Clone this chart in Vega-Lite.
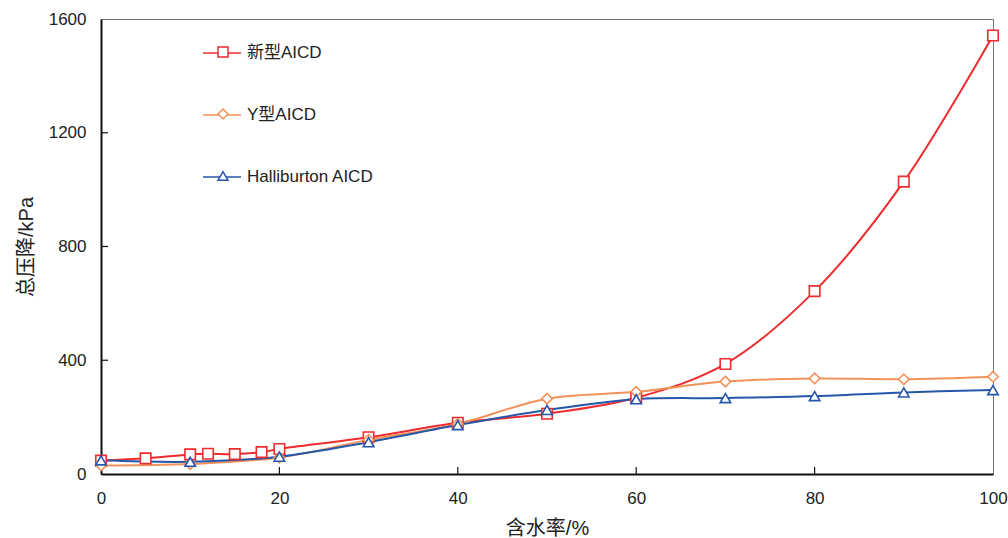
{
  "$schema": "https://vega.github.io/schema/vega-lite/v6.json",
  "width": 892,
  "height": 455,
  "autosize": {"type": "none"},
  "padding": {"left": 101, "top": 19, "right": 15, "bottom": 64},
  "background": "white",
  "config": {
    "view": {"stroke": "#777777", "strokeWidth": 1},
    "font": "Liberation Sans, Noto Sans CJK SC",
    "axis": {
      "domainColor": "#111111",
      "domainWidth": 2,
      "grid": false,
      "ticks": false,
      "tickSize": 0,
      "labelFlush": false,
      "labelFont": "Liberation Sans",
      "labelFontSize": 17,
      "labelColor": "#222222",
      "titleFont": "Liberation Sans, Noto Sans CJK SC",
      "titleFontSize": 20,
      "titleFontWeight": "normal",
      "titleColor": "#222222"
    }
  },
  "datasets": {
    "curves": [
      {"s": "新型AICD", "x": 0, "y": 47},
      {"s": "新型AICD", "x": 5, "y": 55},
      {"s": "新型AICD", "x": 10, "y": 69},
      {"s": "新型AICD", "x": 12, "y": 71},
      {"s": "新型AICD", "x": 15, "y": 70},
      {"s": "新型AICD", "x": 18, "y": 77},
      {"s": "新型AICD", "x": 20, "y": 88},
      {"s": "新型AICD", "x": 30, "y": 129},
      {"s": "新型AICD", "x": 40, "y": 180},
      {"s": "新型AICD", "x": 50, "y": 212},
      {"s": "新型AICD", "x": 60, "y": 268},
      {"s": "新型AICD", "x": 70, "y": 387},
      {"s": "新型AICD", "x": 80, "y": 643},
      {"s": "新型AICD", "x": 90, "y": 1028},
      {"s": "新型AICD", "x": 100, "y": 1542},
      {"s": "Y型AICD", "x": 0, "y": 30},
      {"s": "Y型AICD", "x": 10, "y": 35},
      {"s": "Y型AICD", "x": 20, "y": 58},
      {"s": "Y型AICD", "x": 30, "y": 120},
      {"s": "Y型AICD", "x": 40, "y": 176},
      {"s": "Y型AICD", "x": 50, "y": 265},
      {"s": "Y型AICD", "x": 60, "y": 289},
      {"s": "Y型AICD", "x": 70, "y": 325},
      {"s": "Y型AICD", "x": 80, "y": 336},
      {"s": "Y型AICD", "x": 90, "y": 333},
      {"s": "Y型AICD", "x": 100, "y": 342},
      {"s": "Halliburton AICD", "x": 0, "y": 48},
      {"s": "Halliburton AICD", "x": 10, "y": 43},
      {"s": "Halliburton AICD", "x": 20, "y": 61},
      {"s": "Halliburton AICD", "x": 30, "y": 112},
      {"s": "Halliburton AICD", "x": 40, "y": 172},
      {"s": "Halliburton AICD", "x": 50, "y": 225},
      {"s": "Halliburton AICD", "x": 60, "y": 263},
      {"s": "Halliburton AICD", "x": 70, "y": 267},
      {"s": "Halliburton AICD", "x": 80, "y": 274},
      {"s": "Halliburton AICD", "x": 90, "y": 287},
      {"s": "Halliburton AICD", "x": 100, "y": 295}
    ],
    "xticks": [{"t": 20}, {"t": 40}, {"t": 60}, {"t": 80}],
    "yticks": [{"t": 400}, {"t": 800}, {"t": 1200}]
  },
  "layer": [
    {
      "data": {"name": "curves"},
      "mark": {"type": "line", "interpolate": "catmull-rom", "strokeWidth": 2},
      "encoding": {
        "x": {
          "field": "x",
          "type": "quantitative",
          "scale": {"domain": [0, 100], "nice": false},
          "axis": {
            "values": [0, 20, 40, 60, 80, 100],
            "format": "d",
            "title": "含水率/%",
            "labelPadding": 16,
            "titlePadding": 12
          }
        },
        "y": {
          "field": "y",
          "type": "quantitative",
          "scale": {"domain": [0, 1600], "nice": false},
          "axis": {
            "values": [0, 400, 800, 1200, 1600],
            "format": "d",
            "title": "总压降/kPa",
            "labelPadding": 15,
            "titlePadding": 12
          }
        },
        "stroke": {
          "field": "s",
          "type": "nominal",
          "scale": {
            "domain": ["Halliburton AICD", "新型AICD", "Y型AICD"],
            "range": ["#2656A8", "#EE2B2E", "#F2915A"]
          },
          "legend": {
            "title": null,
            "values": ["新型AICD", "Y型AICD", "Halliburton AICD"],
            "orient": "none",
            "legendX": 101,
            "legendY": 14,
            "padding": 0,
            "symbolType": "stroke",
            "symbolSize": 1444,
            "symbolStrokeWidth": 1.6,
            "rowPadding": 34,
            "labelOffset": 5,
            "labelFont": "Liberation Sans, Noto Sans CJK SC",
            "labelFontSize": 17,
            "labelColor": "#222222"
          }
        }
      }
    },
    {
      "data": {"name": "curves"},
      "mark": {"type": "point", "filled": false, "fill": "white", "fillOpacity": 1, "strokeWidth": 1.6, "opacity": 1},
      "encoding": {
        "x": {"field": "x", "type": "quantitative"},
        "y": {"field": "y", "type": "quantitative"},
        "shape": {
          "field": "s",
          "type": "nominal",
          "scale": {
            "domain": ["新型AICD", "Y型AICD", "Halliburton AICD"],
            "range": ["square", "diamond", "triangle-up"]
          }
        },
        "size": {"value": 110},
        "color": {
          "field": "s",
          "type": "nominal",
          "scale": {
            "domain": ["新型AICD", "Y型AICD", "Halliburton AICD"],
            "range": ["#EE2B2E", "#F2915A", "#2656A8"]
          },
          "legend": {
            "title": null,
            "orient": "none",
            "legendX": 103,
            "legendY": 14,
            "padding": 0,
            "symbolSize": 100,
            "symbolStrokeWidth": 1.5,
            "symbolFillColor": "white",
            "rowPadding": 24,
            "labelFontSize": 38,
            "labelColor": "transparent",
            "labelOpacity": 0
          }
        }
      }
    },
    {
      "data": {"name": "xticks"},
      "mark": {"type": "tick", "orient": "vertical", "size": 7, "thickness": 1.2, "color": "#111111", "yOffset": -3.5, "opacity": 1},
      "encoding": {
        "x": {"field": "t", "type": "quantitative"},
        "y": {"datum": 0, "type": "quantitative"}
      }
    },
    {
      "data": {"name": "yticks"},
      "mark": {"type": "tick", "orient": "horizontal", "size": 7, "thickness": 1.2, "color": "#111111", "xOffset": 3.5, "opacity": 1},
      "encoding": {
        "y": {"field": "t", "type": "quantitative"},
        "x": {"datum": 0, "type": "quantitative"}
      }
    }
  ]
}
